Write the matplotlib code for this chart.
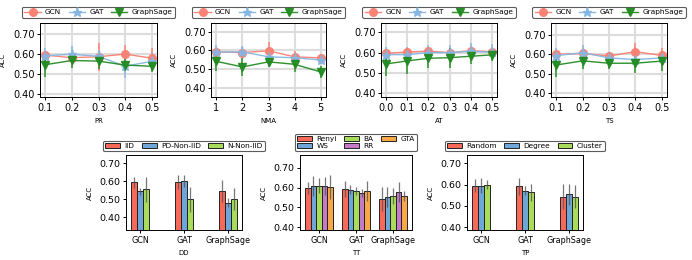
import numpy as np
import matplotlib
matplotlib.use("Agg")
import matplotlib.pyplot as plt

# ---- top row: line plots (mean, err) per parameter sweep ----
PR_X = [0.1, 0.2, 0.3, 0.4, 0.5]
PR_GCN = [0.593, 0.580, 0.585, 0.598, 0.578]
PR_GCN_ERR = [0.02, 0.02, 0.07, 0.045, 0.05]
PR_GAT = [0.590, 0.597, 0.587, 0.537, 0.562]
PR_GAT_ERR = [0.04, 0.04, 0.03, 0.06, 0.04]
PR_SAGE = [0.545, 0.566, 0.563, 0.543, 0.537]
PR_SAGE_ERR = [0.06, 0.04, 0.04, 0.03, 0.03]

NMA_X = [1, 2, 3, 4, 5]
NMA_GCN = [0.591, 0.588, 0.597, 0.565, 0.559]
NMA_GCN_ERR = [0.02, 0.03, 0.05, 0.03, 0.02]
NMA_GAT = [0.590, 0.592, 0.565, 0.560, 0.548]
NMA_GAT_ERR = [0.04, 0.03, 0.02, 0.02, 0.02]
NMA_SAGE = [0.541, 0.511, 0.538, 0.525, 0.484]
NMA_SAGE_ERR = [0.05, 0.05, 0.03, 0.04, 0.03]

AT_X = [0.0, 0.1, 0.2, 0.3, 0.4, 0.5]
AT_GCN = [0.597, 0.603, 0.608, 0.600, 0.610, 0.605]
AT_GCN_ERR = [0.02, 0.02, 0.02, 0.02, 0.02, 0.02]
AT_GAT = [0.590, 0.590, 0.600, 0.600, 0.607, 0.602]
AT_GAT_ERR = [0.04, 0.04, 0.04, 0.04, 0.04, 0.04]
AT_SAGE = [0.544, 0.559, 0.572, 0.575, 0.582, 0.589]
AT_SAGE_ERR = [0.06, 0.065, 0.05, 0.05, 0.04, 0.03]

TS_X = [0.1, 0.2, 0.3, 0.4, 0.5]
TS_GCN = [0.598, 0.603, 0.590, 0.612, 0.593]
TS_GCN_ERR = [0.02, 0.02, 0.02, 0.045, 0.04]
TS_GAT = [0.592, 0.607, 0.580, 0.572, 0.580]
TS_GAT_ERR = [0.04, 0.04, 0.02, 0.02, 0.02]
TS_SAGE = [0.544, 0.565, 0.553, 0.553, 0.564]
TS_SAGE_ERR = [0.06, 0.04, 0.03, 0.05, 0.05]

# ---- bottom row: grouped bars ----
MODELS = ["GCN", "GAT", "GraphSage"]

DD_NAMES = ["IID", "PD-Non-IID", "N-Non-IID"]
DD_VALS = [[0.594, 0.594, 0.544],
           [0.543, 0.602, 0.481],
           [0.556, 0.500, 0.500]]
DD_ERR = [[0.03, 0.04, 0.06],
          [0.02, 0.035, 0.025],
          [0.07, 0.07, 0.06]]

TT_NAMES = ["Renyi", "WS", "BA", "RR", "GTA"]
TT_VALS = [[0.596, 0.591, 0.543],
           [0.606, 0.590, 0.551],
           [0.610, 0.581, 0.556],
           [0.608, 0.573, 0.578],
           [0.601, 0.583, 0.558]]
TT_ERR = [[0.03, 0.04, 0.06],
          [0.05, 0.025, 0.05],
          [0.04, 0.02, 0.04],
          [0.045, 0.02, 0.05],
          [0.06, 0.05, 0.025]]

TP_NAMES = ["Random", "Degree", "Cluster"]
TP_VALS = [[0.595, 0.592, 0.544],
           [0.595, 0.572, 0.555],
           [0.600, 0.564, 0.544]]
TP_ERR = [[0.03, 0.04, 0.06],
          [0.035, 0.02, 0.05],
          [0.02, 0.04, 0.055]]

C_GCN, C_GAT, C_SAGE = "#fa8072", "#86b6e2", "#228b22"
BAR_COLORS = ["#f8695a", "#6fa6d8", "#a8dc5a", "#c57ac8", "#f9a848"]

W, H = 692, 260


def px_axes(fig, left, right, top, bottom):
    return fig.add_axes([left / W, 1 - bottom / H, (right - left) / W, (bottom - top) / H])


def style_legend(leg):
    leg.get_frame().set_edgecolor("#333333")
    leg.get_frame().set_linewidth(0.8)


def line_panel(ax, x, series, xlabel, ylim):
    styles = [("GCN", C_GCN, "o", 5.5), ("GAT", C_GAT, "*", 6.5), ("GraphSage", C_SAGE, "v", 5.5)]
    for (name, c, mk, ms), (y, e) in zip(styles, series):
        ax.errorbar(x, y, yerr=e, color=c, marker=mk, ms=ms, lw=1.0,
                    elinewidth=1.1, ecolor=c, capsize=0, label=name, alpha=0.95)
    ax.set_ylim(*ylim)
    ax.set_yticks([0.4, 0.5, 0.6, 0.7])
    ax.set_yticklabels(["0.40", "0.50", "0.60", "0.70"])
    ax.set_xticks(x)
    ax.set_xticklabels([f"{v:g}" if isinstance(v, int) else f"{v:.1f}" for v in x])
    ax.grid(True, color="#dddddd", lw=1.5)
    ax.set_axisbelow(True)
    ax.tick_params(labelsize=7, length=2.5, width=0.7, pad=1.5)
    for s in ax.spines.values():
        s.set_linewidth(0.7)
    ax.set_ylabel("ACC", fontsize=5, labelpad=5)
    ax.set_xlabel(xlabel, fontsize=5, labelpad=4)
    leg = ax.legend(loc="lower center", bbox_to_anchor=(0.5, 1.07), ncol=3,
                    fontsize=5.3, frameon=True, fancybox=True, handlelength=2.2,
                    columnspacing=1.0, handletextpad=0.6, borderpad=0.35,
                    borderaxespad=0)
    style_legend(leg)


def bar_panel(ax, names, vals, errs, xlabel, ylim):
    n = len(names)
    w = 0.4 / 3 if n == 3 else 0.15
    x = np.arange(len(MODELS))
    for i, (name, v, e) in enumerate(zip(names, vals, errs)):
        off = (i - (n - 1) / 2) * w
        ax.bar(x + off, v, width=w, color=BAR_COLORS[i], edgecolor="#222222",
               linewidth=0.7, label=name, yerr=e,
               error_kw=dict(ecolor="#555555", elinewidth=0.9, capsize=0, alpha=0.8))
    ax.set_ylim(*ylim)
    ax.set_yticks([0.4, 0.5, 0.6, 0.7])
    ax.set_yticklabels(["0.40", "0.50", "0.60", "0.70"])
    ax.set_xticks(x)
    ax.set_xticklabels(MODELS)
    ax.tick_params(axis="y", labelsize=6.8, length=2.5, width=0.7, pad=1.5)
    ax.tick_params(axis="x", labelsize=5.8, length=2.5, width=0.7, pad=1.5)
    for s in ax.spines.values():
        s.set_linewidth(0.7)
    ax.set_ylabel("ACC", fontsize=5, labelpad=5)
    ax.set_xlabel(xlabel, fontsize=5, labelpad=4)
    leg = ax.legend(loc="lower center", bbox_to_anchor=(0.5, 1.05), ncol=3,
                    fontsize=5.3, frameon=True, fancybox=True, handlelength=2.0,
                    columnspacing=1.0, handletextpad=0.6, borderpad=0.3,
                    labelspacing=0.1, borderaxespad=0)
    style_legend(leg)


fig = plt.figure(figsize=(W / 100, H / 100), dpi=100)

ax1 = px_axes(fig, 40, 157, 23, 97)
line_panel(ax1, PR_X, [(PR_GCN, PR_GCN_ERR), (PR_GAT, PR_GAT_ERR), (PR_SAGE, PR_SAGE_ERR)],
           "PR", (0.383, 0.754))
ax2 = px_axes(fig, 211, 326, 23, 97)
line_panel(ax2, NMA_X, [(NMA_GCN, NMA_GCN_ERR), (NMA_GAT, NMA_GAT_ERR), (NMA_SAGE, NMA_SAGE_ERR)],
           "NMA", (0.35, 0.746))
ax3 = px_axes(fig, 381, 497, 23, 97)
line_panel(ax3, AT_X, [(AT_GCN, AT_GCN_ERR), (AT_GAT, AT_GAT_ERR), (AT_SAGE, AT_SAGE_ERR)],
           "AT", (0.38, 0.747))
ax4 = px_axes(fig, 551, 667, 23, 97)
line_panel(ax4, TS_X, [(TS_GCN, TS_GCN_ERR), (TS_GAT, TS_GAT_ERR), (TS_SAGE, TS_SAGE_ERR)],
           "TS", (0.38, 0.759))

ax5 = px_axes(fig, 126, 242, 155, 230)
bar_panel(ax5, DD_NAMES, DD_VALS, DD_ERR, "DD", (0.328, 0.746))
ax6 = px_axes(fig, 300, 412, 155, 230)
bar_panel(ax6, TT_NAMES, TT_VALS, TT_ERR, "TT", (0.386, 0.764))
ax7 = px_axes(fig, 467, 583, 155, 230)
bar_panel(ax7, TP_NAMES, TP_VALS, TP_ERR, "TP", (0.387, 0.739))

fig.savefig("out.png", dpi=100)
